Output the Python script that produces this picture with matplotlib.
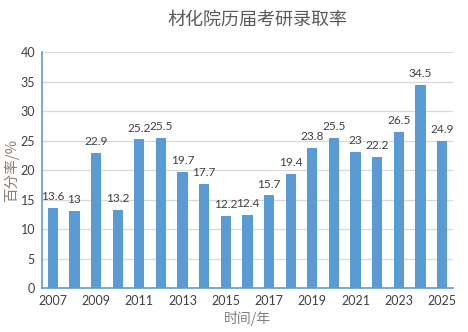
import matplotlib.pyplot as plt
import numpy as np

years = list(range(2007, 2026))
rates = [13.6, 13, 22.9, 13.2, 25.2, 25.5, 19.7, 17.7, 12.2, 12.4,
         15.7, 19.4, 23.8, 25.5, 23, 22.2, 26.5, 34.5, 24.9]
rate_labels = ["13.6", "13", "22.9", "13.2", "25.2", "25.5", "19.7", "17.7", "12.2", "12.4",
               "15.7", "19.4", "23.8", "25.5", "23", "22.2", "26.5", "34.5", "24.9"]

cjk = ['Noto Sans CJK SC', 'DejaVu Sans']
blue = '#5B9BD5'

fig = plt.figure(figsize=(4.68, 3.32), dpi=100)
ax = fig.add_axes([0.0897, 0.1325, 0.878, 0.7105])

x = np.arange(len(years))
bars = ax.bar(x, rates, width=0.47, color=blue, zorder=2)

# value labels above each bar
for xi, v, lab in zip(x, rates, rate_labels):
    ax.text(xi, v + 1.0, lab, ha='center', va='bottom', fontsize=8.6,
            family='Lato', color='#404040')

ax.set_xlim(-0.5, len(years) - 0.5)
ax.set_ylim(0, 40)
ax.set_yticks(range(0, 41, 5))
ax.set_xticks(x[::2])
ax.set_xticklabels([str(y) for y in years[::2]])
for t in ax.get_xticklabels() + ax.get_yticklabels():
    t.set_family('Lato')
    t.set_fontsize(9)
    t.set_color('#404040')
ax.tick_params(length=0, pad=5)

ax.grid(axis='y', color='#D9D9D9', linewidth=0.9, zorder=0)
ax.set_axisbelow(True)
for s in ['top', 'right']:
    ax.spines[s].set_visible(False)
for s in ['left', 'bottom']:
    ax.spines[s].set_color(blue)
    ax.spines[s].set_linewidth(1.2)

ax.set_ylabel('百分率/%', family=cjk, fontsize=10.5, color='#8C7B70', labelpad=1)
ax.set_xlabel('时间/年', family=cjk, fontsize=10, color='#7F7F7F', labelpad=3)
fig.text(0.55, 0.94, '材化院历届考研录取率', family=cjk, fontsize=13,
         color='#595959', ha='center', va='center')

fig.savefig('out.png', dpi=100)
